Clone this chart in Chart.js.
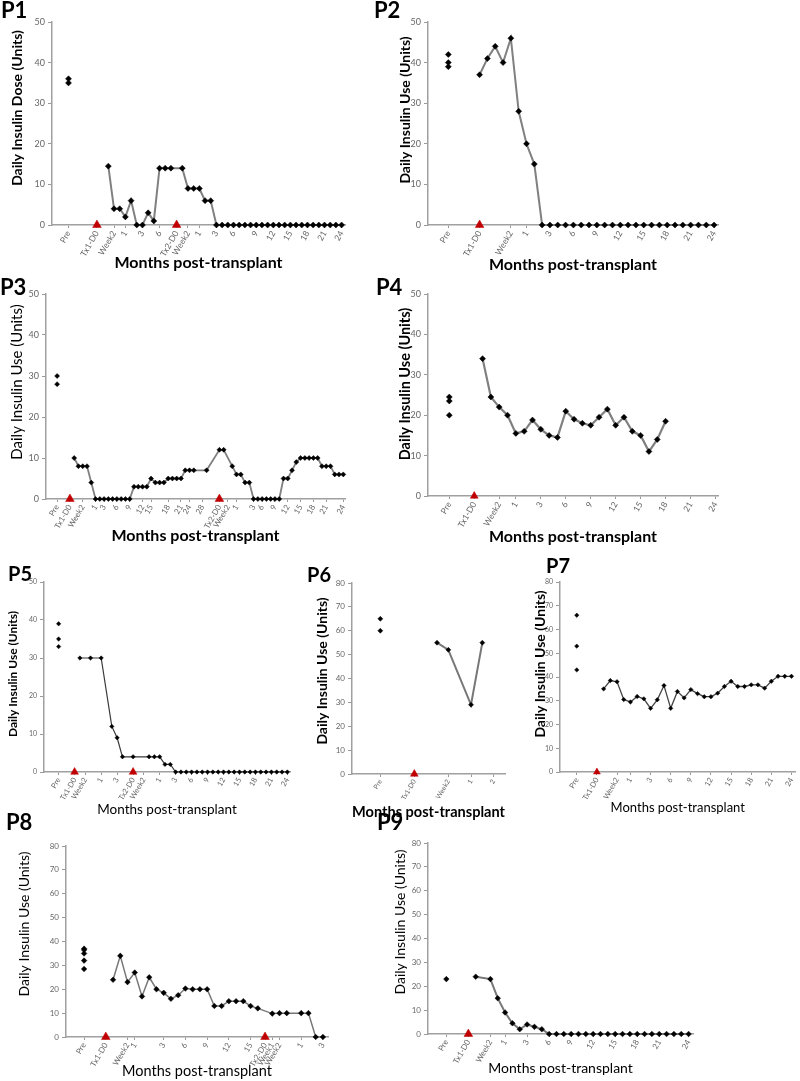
<!DOCTYPE html>
<html>
<head>
<meta charset="utf-8">
<script src="https://cdn.jsdelivr.net/npm/chart.js@4.4.1/dist/chart.umd.min.js"></script>
<style>
  body { margin: 0; background: #fff; width: 800px; height: 1081px; position: relative; overflow: hidden; }
  canvas { position: absolute; }
  .plabel { position: absolute; font-family: Lato, sans-serif; font-weight: bold; line-height: 1; color: #000; }
</style>
</head>
<body>
<script>
// ---- data (x = slot index along the time axis, Pre = 0) ----
const p1Pre = [36, 35];
const p1Start = 7;
const p1Use = [14.5, 4, 4, 2, 6, 0, 0, 3, 1, 14, 14, 14, null, 14, 9, 9, 9, 6, 6,
  0, 0, 0, 0, 0, 0, 0, 0, 0, 0, 0, 0, 0, 0, 0, 0, 0, 0, 0, 0, 0, 0, 0];
const p1Tx = [5, 19];
const p1TickPos = [0, 5, 8, 10, 13, 16, 19, 21, 23, 26, 29, 33, 36, 39, 42, 45, 48];
const p1TickLabels = ['Pre', 'Tx1-D0', 'Week2', '1', '3', '6', 'Tx2-D0', 'Week2', '1', '3', '6', '9', '12', '15', '18', '21', '24'];

const p2Pre = [42, 40, 39];
const p2Start = 4;
const p2Use = [37, 41, 44, 40, 46, 28, 20, 15,
  0, 0, 0, 0, 0, 0, 0, 0, 0, 0, 0, 0, 0, 0, 0, 0, 0, 0, 0, 0, 0, 0, 0];
const p2Tx = [4];
const p2TickPos = [0, 4, 8, 10, 13, 16, 19, 22, 25, 28, 31, 34];
const p2TickLabels = ['Pre', 'Tx1-D0', 'Week2', '1', '3', '6', '9', '12', '15', '18', '21', '24'];

const p3Pre = [30, 28];
const p3Start = 4;
const p3Use = [10, 8, 8, 8, 4,
  0, 0, 0, 0, 0, 0, 0, 0, 0,
  3, 3, 3, 3, 5, 4, 4, 4, 5, 5, 5, 5,
  7, 7, 7, null, null, 7, null, null, 12, 12, null, 8, 6, 6, 4, 4,
  0, 0, 0, 0, 0, 0, 0,
  5, 5, 7, 9, 10, 10, 10, 10, 10, 8, 8, 8, 6, 6, 6];
const p3Tx = [3, 38];
const p3TickPos = [0, 3, 6, 9, 11, 14, 17, 20, 22, 26, 29, 31, 34, 38, 40, 42, 46, 48, 51, 54, 57, 60, 63, 67];
const p3TickLabels = ['Pre', 'Tx1-D0', 'Week2', '1', '3', '6', '9', '12', '15', '18', '21', '24', '28',
  'Tx2-D0', 'Week2', '1', '3', '6', '9', '12', '15', '18', '21', '24'];

const p4Pre = [24.5, 23.5, 20];
const p4Start = 4;
const p4Use = [34, 24.5, 22, 20, 15.5, 16, 18.8, 16.5, 15, 14.5, 21, 19, 18, 17.5, 19.5, 21.5, 17.5, 19.5, 16, 15, 11, 14, 18.5];
const p4Tx = [3];
const p4TickPos = [0, 3, 6, 8, 11, 14, 17, 20, 23, 26, 29, 32];
const p4TickLabels = ['Pre', 'Tx1-D0', 'Week2', '1', '3', '6', '9', '12', '15', '18', '21', '24'];

const p5Pre = [39, 35, 33];
const p5Start = 4;
const p5Use = [30, null, 30, null, 30, null, 12, 9, 4, null, 4, null, null, 4, 4, 4, 2, 2,
  0, 0, 0, 0, 0, 0, 0, 0, 0, 0, 0, 0, 0, 0, 0, 0, 0, 0, 0, 0, 0, 0];
const p5Tx = [3, 14];
const p5TickPos = [0, 3, 5, 8, 11, 14, 16, 19, 22, 25, 28, 31, 34, 37, 40, 43];
const p5TickLabels = ['Pre', 'Tx1-D0', 'Week2', '1', '3', 'Tx2-D0', 'Week2', '1', '3', '6', '9', '12', '15', '18', '21', '24'];

const p6Pre = [65, 60];
const p6Start = 5;
const p6Use = [55, 52, null, 29, 55];
const p6Tx = [3];
const p6TickPos = [0, 3, 6, 8, 10];
const p6TickLabels = ['Pre', 'Tx1-D0', 'Week2', '1', '2'];

const p7Pre = [66, 53, 43];
const p7Start = 4;
const p7Use = [35, 38.5, 38, 30.5, 29.5, 31.8, 30.8, 26.8, 30.4, 36.4, 26.8, 33.9, 31.2, 34.7, 33, 31.7, 31.7,
  33.2, 36, 38.2, 36, 36, 36.7, 36.7, 35.3, 38.2, 40.3, 40.3, 40.3];
const p7Tx = [3];
const p7TickPos = [0, 3, 6, 8, 11, 14, 17, 20, 23, 26, 29, 32];
const p7TickLabels = ['Pre', 'Tx1-D0', 'Week2', '1', '3', '6', '9', '12', '15', '18', '21', '24'];

const p8Pre = [37, 36.5, 35, 32, 28.5];
const p8Start = 4;
const p8Use = [24, 34, 23, 27, 17, 25, 20, 18.5, 16, 17.5, 20.3, 20, 20, 20, 13, 13, 15, 15, 15, 13, 12,
  null, 9.8, 10, 10, null, 10, 10, 0, 0];
const p8Tx = [3, 25];
const p8TickPos = [0, 3, 6, 7, 11, 14, 17, 20, 23, 25, 26, 27, 30, 33];
const p8TickLabels = ['Pre', 'Tx1-D0', 'Week2', '1', '3', '6', '9', '12', '15', 'Tx2-D0', 'Week1', 'Week2', '1', '3'];

const p9Pre = [23];
const p9Start = 4;
const p9Use = [24, null, 23, 15, 9, 4.5, 2, 4, 3, 2,
  0, 0, 0, 0, 0, 0, 0, 0, 0, 0, 0, 0, 0, 0, 0, 0, 0, 0, 0, 0];
const p9Tx = [3];
const p9TickPos = [0, 3, 6, 8, 11, 14, 17, 20, 23, 26, 29, 33];
const p9TickLabels = ['Pre', 'Tx1-D0', 'Week2', '1', '3', '6', '9', '12', '15', '18', '21', '24'];

const xTitle = 'Months post-transplant';
const useTitle = 'Daily Insulin Use (Units)';

// ---- layout / style for each panel ----
const panels = [
  { name: 'P1', lx: 1, ly: -1, ls: 22, bx: 0, by: 0, aL: 52, aT: 22, aR: 345, aB: 225, padR: 12,
    xMin: -2.9, xMax: 48.6, yMax: 50, xTitleY: 262, xFont: 16, xBold: true, yFont: 14, yBold: true, yCx: 17, yCy: 108,
    yTitle: 'Daily Insulin Dose (Units)', r: 3, lw: 2, lc: '#808080', tri: 5, tick: 8.5, ytick: 9,
    pre: p1Pre, start: p1Start, use: p1Use, tx: p1Tx, pos: p1TickPos, labels: p1TickLabels },
  { name: 'P2', lx: 374, ly: -1, ls: 22, bx: 393, by: 0, aL: 428, aT: 22, aR: 718, aB: 225, padR: 12,
    xMin: -2.6, xMax: 34.5, yMax: 50, xTitleY: 264, xFont: 16, xBold: true, yFont: 14, yBold: true, yCx: 405, yCy: 110,
    yTitle: useTitle, r: 3, lw: 2, lc: '#808080', tri: 5, tick: 8.5, ytick: 9,
    pre: p2Pre, start: p2Start, use: p2Use, tx: p2Tx, pos: p2TickPos, labels: p2TickLabels },
  { name: 'P3', lx: 0, ly: 276, ls: 22, bx: 0, by: 275, aL: 46, aT: 294, aR: 345, aB: 499, padR: 12,
    xMin: -2.6, xMax: 67.4, yMax: 50, xTitleY: 535, xFont: 16, xBold: true, yFont: 15, yBold: false, yCx: 17, yCy: 382,
    yTitle: useTitle, r: 2.5, lw: 1.8, lc: '#808080', tri: 5, tick: 8, ytick: 9,
    pre: p3Pre, start: p3Start, use: p3Use, tx: p3Tx, pos: p3TickPos, labels: p3TickLabels },
  { name: 'P4', lx: 376, ly: 276, ls: 22, bx: 393, by: 275, aL: 428, aT: 294, aR: 718, aB: 496, padR: 12,
    xMin: -2.56, xMax: 32.3, yMax: 50, xTitleY: 536, xFont: 16, xBold: true, yFont: 14.5, yBold: true, yCx: 405, yCy: 384,
    yTitle: useTitle, r: 3, lw: 2.2, lc: '#808080', tri: 4.5, tick: 8.5, ytick: 9,
    pre: p4Pre, start: p4Start, use: p4Use, tx: p4Tx, pos: p4TickPos, labels: p4TickLabels },
  { name: 'P5', lx: 8, ly: 563, ls: 20, bx: 0, by: 560, aL: 44, aT: 582, aR: 290, aB: 772, padR: 12,
    xMin: -2.75, xMax: 43.5, yMax: 50, xTitleY: 810, xFont: 13.5, xBold: false, yFont: 12, yBold: true, yCx: 13, yCy: 674,
    yTitle: useTitle, r: 2.2, lw: 1.2, lc: '#3a3a3a', tri: 4.5, tick: 7.5, ytick: 7,
    pre: p5Pre, start: p5Start, use: p5Use, tx: p5Tx, pos: p5TickPos, labels: p5TickLabels },
  { name: 'P6', lx: 307, ly: 564, ls: 20, bx: 290, by: 555, aL: 352, aT: 583, aR: 505, aB: 774, padR: 10,
    xMin: -2.5, xMax: 11, yMax: 80, xTitleY: 812, xFont: 15, xBold: true, yFont: 14, yBold: true, yCx: 322, yCy: 671,
    yTitle: useTitle, r: 2.5, lw: 2, lc: '#777777', tri: 4.5, tick: 6.8, ytick: 8,
    pre: p6Pre, start: p6Start, use: p6Use, tx: p6Tx, pos: p6TickPos, labels: p6TickLabels },
  { name: 'P7', lx: 546, ly: 555, ls: 20, bx: 515, by: 555, aL: 560, aT: 582, aR: 798, aB: 772, padR: 2,
    xMin: -2.5, xMax: 32.6, yMax: 80, xTitleY: 808, xFont: 13, xBold: false, yFont: 14, yBold: true, yCx: 540, yCy: 664,
    yTitle: useTitle, r: 2.2, lw: 1.3, lc: '#444444', tri: 4, tick: 7.5, ytick: 7,
    pre: p7Pre, start: p7Start, use: p7Use, tx: p7Tx, pos: p7TickPos, labels: p7TickLabels },
  { name: 'P8', lx: 6, ly: 811, ls: 22, bx: 0, by: 830, aL: 66, aT: 846, aR: 328, aB: 1037, padR: 12,
    xMin: -2.5, xMax: 33.7, yMax: 80, xTitleY: 1071, xFont: 14.5, xBold: false, yFont: 14, yBold: false, yCx: 24, yCy: 924,
    yTitle: useTitle, r: 2.8, lw: 1.5, lc: '#777777', tri: 5, tick: 8, ytick: 8,
    pre: p8Pre, start: p8Start, use: p8Use, tx: p8Tx, pos: p8TickPos, labels: p8TickLabels },
  { name: 'P9', lx: 377, ly: 811, ls: 22, bx: 390, by: 830, aL: 428, aT: 843, aR: 693, aB: 1034, padR: 12,
    xMin: -2.5, xMax: 33.6, yMax: 80, xTitleY: 1069, xFont: 14, xBold: false, yFont: 14, yBold: false, yCx: 400, yCy: 922,
    yTitle: useTitle, r: 2.8, lw: 2, lc: '#777777', tri: 5, tick: 8, ytick: 8,
    pre: p9Pre, start: p9Start, use: p9Use, tx: p9Tx, pos: p9TickPos, labels: p9TickLabels }
];

const font = 'Lato, "Open Sans", sans-serif';

// vertical axis title drawn at a fixed spot (the original titles sit a bit above the axis middle)
const yTitlePlugin = {
  id: 'yTitle',
  afterDraw(chart, args, o) {
    const ctx = chart.ctx;
    ctx.save();
    ctx.translate(o.x, o.y);
    ctx.rotate(-Math.PI / 2);
    ctx.font = (o.bold ? 'bold ' : '') + o.size + 'px ' + font;
    ctx.fillStyle = '#000';
    ctx.textAlign = 'center';
    ctx.textBaseline = 'middle';
    ctx.fillText(o.text, 0, 0);
    ctx.restore();
  }
};

function drawPanel(p) {
  const xlh = p.xFont * 1.2;
  const w = p.aR + p.padR - p.bx;
  const h = Math.round(p.xTitleY + xlh / 2 + 2) - p.by;

  const cv = document.createElement('canvas');
  cv.width = w;
  cv.height = h;
  cv.style.left = p.bx + 'px';
  cv.style.top = p.by + 'px';
  document.body.appendChild(cv);

  const lab = document.createElement('div');
  lab.className = 'plabel';
  lab.textContent = p.name;
  lab.style.left = p.lx + 'px';
  lab.style.top = p.ly + 'px';
  lab.style.fontSize = p.ls + 'px';
  document.body.appendChild(lab);

  const lineData = p.use.map((v, i) => ({ x: p.start + i, y: v }));
  const preData = p.pre.map(v => ({ x: 0, y: v }));
  const txData = p.tx.map(v => ({ x: v, y: 0 }));

  new Chart(cv, {
    type: 'line',
    plugins: [yTitlePlugin],
    data: {
      datasets: [
        {
          data: lineData,
          borderColor: p.lc,
          borderWidth: p.lw,
          spanGaps: true,
          tension: 0,
          pointStyle: 'rectRot',
          pointRadius: p.r,
          pointBackgroundColor: '#000',
          pointBorderColor: '#000',
          pointBorderWidth: 0.5,
          clip: false
        },
        {
          data: preData,
          showLine: false,
          pointStyle: 'rectRot',
          pointRadius: p.r,
          pointBackgroundColor: '#000',
          pointBorderColor: '#000',
          pointBorderWidth: 0.5,
          clip: false
        },
        {
          data: txData,
          showLine: false,
          pointStyle: 'triangle',
          pointRadius: p.tri,
          pointBackgroundColor: '#c00000',
          pointBorderColor: '#c00000',
          pointBorderWidth: 0.5,
          clip: false
        }
      ]
    },
    options: {
      responsive: false,
      animation: false,
      events: [],
      layout: { padding: { top: p.aT - p.by, right: p.padR, left: 0, bottom: 0 } },
      plugins: {
        legend: { display: false },
        tooltip: { enabled: false },
        yTitle: { text: p.yTitle, x: p.yCx - p.bx, y: p.yCy - p.by, size: p.yFont, bold: p.yBold }
      },
      scales: {
        x: {
          type: 'linear',
          min: p.xMin,
          max: p.xMax,
          afterBuildTicks: s => { s.ticks = p.pos.map(v => ({ value: v })); },
          afterFit: s => {
            s.height = p.by + h - p.aB;
            s.paddingLeft = 0;
            s.paddingRight = 0;
          },
          ticks: {
            autoSkip: false,
            minRotation: 60,
            maxRotation: 60,
            padding: 1,
            color: '#666',
            font: { family: font, size: p.tick },
            callback: (v, i) => p.labels[i]
          },
          grid: { drawOnChartArea: false, tickLength: 3, color: '#999' },
          border: { color: '#a0a0a0', width: 1.5 },
          title: {
            display: true,
            text: xTitle,
            color: '#000',
            padding: { top: 0, bottom: 2 },
            font: { family: font, size: p.xFont, weight: p.xBold ? 'bold' : 'normal' }
          }
        },
        y: {
          min: 0,
          max: p.yMax,
          afterFit: s => {
            s.width = p.aL - p.bx;
            s.paddingTop = 0;
            s.paddingBottom = 0;
          },
          ticks: {
            stepSize: 10,
            padding: 3,
            color: '#666',
            font: { family: font, size: p.ytick }
          },
          grid: { drawOnChartArea: false, tickLength: 4, color: '#999' },
          border: { color: '#a0a0a0', width: 1.5 }
        }
      }
    }
  });
}

panels.forEach(drawPanel);
</script>
</body>
</html>
